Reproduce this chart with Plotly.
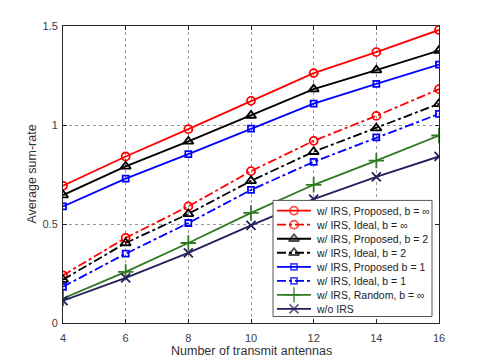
import plotly.graph_objects as go

antennas = [4, 6, 8, 10, 12, 14, 16]

prop_inf = [0.693, 0.841, 0.979, 1.122, 1.262, 1.368, 1.480]
ideal_inf = [0.241, 0.430, 0.589, 0.767, 0.920, 1.046, 1.181]
prop_b2 = [0.646, 0.791, 0.917, 1.048, 1.181, 1.277, 1.376]
ideal_b2 = [0.219, 0.404, 0.551, 0.718, 0.865, 0.984, 1.107]
prop_b1 = [0.589, 0.729, 0.853, 0.982, 1.108, 1.208, 1.305]
ideal_b1 = [0.183, 0.350, 0.505, 0.672, 0.814, 0.937, 1.056]
random_inf = [0.124, 0.258, 0.404, 0.556, 0.698, 0.820, 0.947]
no_irs = [0.113, 0.228, 0.354, 0.493, 0.626, 0.738, 0.841]

y_ticks = [0, 0.5, 1, 1.5]
y_ticktext = ["0", "0.5", "1", "1.5"]

series = [
    ("w/ IRS, Proposed, b = ∞", prop_inf, "#ff0000", "solid", "circle-open", 8),
    ("w/ IRS, Ideal, b = ∞", ideal_inf, "#ff0000", "dashdot", "circle-open", 8),
    ("w/ IRS, Proposed, b = 2", prop_b2, "#000000", "solid", "triangle-up-open", 9),
    ("w/ IRS, Ideal, b = 2", ideal_b2, "#000000", "dashdot", "triangle-up-open", 9),
    ("w/ IRS, Proposed b = 1", prop_b1, "#0000ff", "solid", "square-open", 6),
    ("w/ IRS, Ideal, b = 1", ideal_b1, "#0000ff", "dashdot", "square-open", 6),
    ("w/ IRS, Random, b = ∞", random_inf, "#2f7a22", "solid", "cross-thin-open", 11),
    ("w/o IRS", no_irs, "#241f5a", "solid", "x-thin-open", 9),
]

# plot area in screen pixels; the page body adds an 8px offset
OFF = 8
W, H = 485, 363
L, R, T, B = 63, 439, 26, 323.5

fig = go.Figure()
for name, vals, color, dash, sym, size in series:
    fig.add_trace(go.Scatter(
        x=antennas, y=vals, name=name, mode="lines+markers", showlegend=False,
        line=dict(color=color, width=1.8, dash=dash),
        marker=dict(symbol=sym, size=size, color=color,
                    line=dict(color=color, width=1.8)),
    ))

# hand-made legend drawn on a pixel-scaled overlay axis (MATLAB style: compact rows)
box_x0, box_x1, box_y0, box_y1 = 273, 432, 200.7, 317
row0, row_step = 211, 14.05
seg_x0, seg_x1, txt_x = 277, 311, 314

fig.add_trace(go.Scatter(
    x=[box_x0, box_x1, box_x1, box_x0, box_x0],
    y=[box_y0, box_y0, box_y1, box_y1, box_y0],
    xaxis="x2", yaxis="y2", mode="lines", fill="toself", fillcolor="white",
    line=dict(color="#555555", width=1), showlegend=False, hoverinfo="skip",
))
for i, (name, vals, color, dash, sym, size) in enumerate(series):
    ry = row0 + i * row_step
    fig.add_trace(go.Scatter(
        x=[seg_x0, (seg_x0 + seg_x1) / 2, seg_x1], y=[ry, ry, ry],
        xaxis="x2", yaxis="y2", mode="lines+markers", showlegend=False,
        hoverinfo="skip",
        line=dict(color=color, width=1.8, dash=dash),
        marker=dict(symbol=sym, size=[0, size, 0], color=color,
                    line=dict(color=color, width=1.8)),
    ))
    fig.add_annotation(x=txt_x, y=ry, xref="x2", yref="y2", text=name,
                       showarrow=False, xanchor="left", yanchor="middle",
                       font=dict(size=10.5, color="#222222"))


def px_x(sx):
    return (sx - L) / (R - L)


def px_y(sy):
    return (B - sy) / (B - T)


fig.add_annotation(x=px_x((L + R) / 2), y=px_y(352), xref="paper", yref="paper",
                   text="Number of transmit antennas", showarrow=False,
                   xanchor="center", yanchor="middle",
                   font=dict(size=12.5, color="#333333"))
fig.add_annotation(x=px_x(31), y=px_y((T + B) / 2), xref="paper", yref="paper",
                   text="Average sum-rate", showarrow=False, textangle=-90,
                   xanchor="center", yanchor="middle",
                   font=dict(size=12.5, color="#333333"))

axis_common = dict(
    showline=True, linecolor="#262626", linewidth=1, mirror="ticks",
    ticks="inside", ticklen=4, tickcolor="#262626",
    showgrid=True, gridcolor="#9a9a9a", griddash="dot", gridwidth=1,
    zeroline=False, tickfont=dict(size=11, color="#404040"), automargin=False,
)

fig.update_layout(
    width=W - OFF, height=H - OFF,
    margin=dict(l=L - OFF, r=W - R, t=T - OFF, b=H - B, autoexpand=False),
    paper_bgcolor="white", plot_bgcolor="white",
    font=dict(family="Liberation Sans, Arial, sans-serif", color="#333333"),
    xaxis=dict(range=[4, 16], tickvals=antennas, ticklabelstandoff=5, **axis_common),
    yaxis=dict(range=[0, 1.5], tickvals=y_ticks, ticktext=y_ticktext,
               ticklabelstandoff=2, **axis_common),
    xaxis2=dict(overlaying="x", range=[L, R], visible=False, fixedrange=True),
    yaxis2=dict(overlaying="y", range=[B, T], visible=False, fixedrange=True),
    showlegend=False,
)

fig.write_html("out.html")
